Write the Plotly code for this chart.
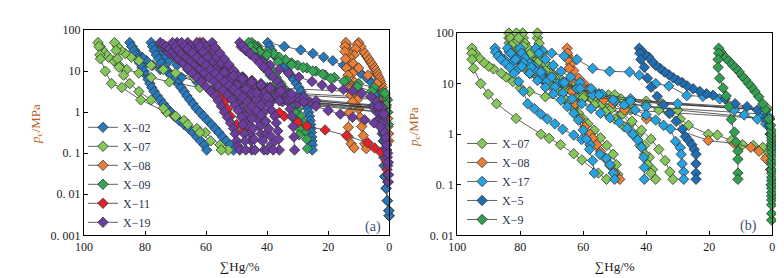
import plotly.graph_objects as go

# ---------------- panel (a) data : cumulative Hg saturation (%) and capillary pressure (MPa) ----------------
a_x02_hg = [0, 0.1, 0.6, 1.0, 1.4, 1.6, 1.7, 1.8, 2.0, 2.3, 2.7, 3.2, 5, 48, 57, 63, 68, 72, 75, 77.5, 79.5, 81, 82.5, 83.5, 84.3, 85,
            84.3, 83.6, 83, 82.5, 81.8, 81, 80.3, 79.6, 79, 78.4, 77.8, 77, 76, 75, 74, 72.8, 71.5, 70.2, 68.8, 67.2, 65.7, 64.3, 63, 61.8, 60.6, 59.8, None,
            2.0, 2.6, 3.5, 4.5, 40, 50, 57, 62, 66, 69.5, 72, 74, 75.5, 76.5, 77.3, 78,
            77.5, 77, 76.3, 75.5, 74.6, 73.6, 72.6, 71.5, 70.3, 69.2, 68.2, 67.2, 66.3, 65.3, 64.3, 63.2, 62, 60.8, 59.5, 58.2, 57, 55.8, 54.6, 53.4, 52.2, 51, None,
            0, 0.2, 0.6, 1.0, 1.4, 1.6, 1.7, 1.6, 1.6, 1.8, 2.0, 2.3, 2.7, 3.0, 3.4, 3.8, 5, 6, 7.5, 9.4, 11.8, 15, 18.5, 21.5, 25, 29, 34.4, 39.8,
            39.2, 38.5, 37.6, 36.6, 35.5, 34.4, 33.3, 32.3, 31.3, 30.4, 29.6, 28.9, 28.2, 27.6, 27.1, 26.7, 26.4, 26.1, 25.9, 25.7, 25.6, 25.5, 25.4, 25.3, 25.2, 25.2]
a_x02_pc = [0.003, 0.004, 0.007, 0.014, 0.027, 0.05, 0.08, 0.12, 0.2, 0.3, 0.45, 0.7, 1.5, 3.0, 4.0, 5.5, 7, 9, 11, 14, 18, 22, 27, 33, 40, 50,
            40, 32, 25, 20, 16, 12.5, 10, 8, 6.3, 5, 4, 3.2, 2.5, 2, 1.6, 1.25, 1.0, 0.8, 0.63, 0.5, 0.4, 0.32, 0.25, 0.2, 0.16, 0.12, None,
            1.0, 1.5, 2.2, 3.0, 4.0, 5.5, 7, 9, 11, 14, 18, 22, 27, 33, 40, 50,
            40, 32, 25, 20, 16, 12.5, 10, 8, 6.3, 5, 4, 3.2, 2.5, 2, 1.6, 1.25, 1.0, 0.8, 0.63, 0.5, 0.4, 0.32, 0.25, 0.2, 0.16, 0.12, None,
            0.003, 0.004, 0.007, 0.014, 0.027, 0.05, 0.08, 0.12, 0.2, 0.3, 0.45, 0.7, 1.0, 1.5, 2.2, 3.0, 4.0, 5.5, 7, 9, 11, 14, 18, 22, 27, 33, 40, 50,
            40, 32, 25, 20, 16, 12.5, 10, 8, 6.3, 5, 4, 3.2, 2.5, 2, 1.6, 1.25, 1.0, 0.8, 0.63, 0.5, 0.4, 0.32, 0.25, 0.2, 0.16, 0.12]

a_x07_hg = [0.5, 0.5, 0.6, 0.8, 45, 62, 72, 78, 82, 86, 88.5, 90.3, 92, 93, 94, 94.7, 95.4,
            95.1, 94.8, 94.6, 93, 91, 87.6, 81.4, 73, 70.4, 67.2, 63, 60.2, 55.4, 52.7, None,
            1.0, 35, 46, 55, 64, 70, 74, 78, 82, 84.5, 86.5, 88, 89, 90,
            89.5, 89, 88.5, 87, 85, 82, 78, 74, 70, 66, 62, 58.5, 55]
a_x07_pc = [0.3, 0.5, 1.0, 2.0, 3.0, 4.0, 5.5, 7, 9, 11, 14, 18, 22, 27, 33, 40, 50,
            40, 25, 20, 10, 5, 4, 2, 1.0, 0.8, 0.63, 0.4, 0.32, 0.16, 0.12, None,
            2.2, 3.0, 4.0, 5.5, 7, 9, 11, 14, 18, 22, 27, 33, 40, 50,
            32, 20, 12.5, 8, 5, 3.2, 2, 1.25, 0.8, 0.5, 0.32, 0.2, 0.12]

a_x08_hg = [0.2, 0.3, 0.4, 0.6, 0.8, 1.0, 1.3, 1.6, 1.8, 2.0, 2.3, 2.6, 2.9, 3.2, 3.6, 4.0, 4.4, 4.8, 5.2, 5.7, 6.2, 6.8, 7.4, 8.0, 8.7, 9.3, 10,
            10.5, 11, 11.5, 12, 12, 11.5, 11, 10.5, 10, 9.5, 9, 8.5, 8, 7.5, None,
            0.3, 0.5, 1.0, 2.0, 4.0, 7.0, 10, 12, 13, 13.5, 14, 14, 14.2,
            14.5, 14.5, 14.3, 14, 13.5, 13, 13, 12.5, 12, 13, 13.4, 13.4, 12.5, 11.5]
a_x08_pc = [0.2, 0.3, 0.45, 0.7, 1.0, 1.3, 1.7, 2.2, 2.7, 3.3, 4.0, 4.8, 5.6, 6.5, 7.5, 8.7, 10, 11.5, 13, 15, 17, 20, 23, 27, 32, 40, 50,
            45, 35, 25, 15, 9, 5.5, 3.5, 2, 1.2, 0.75, 0.45, 0.27, 0.17, 0.13, None,
            0.3, 0.7, 1.5, 3.0, 5.0, 8.0, 12, 16, 22, 30, 38, 45, 50,
            40, 30, 20, 12, 8, 5, 3.5, 2.6, 1.8, 1.0, 0.43, 0.25, 0.17, 0.135]

a_x09_hg = [0.3, 0.5, 0.6, 1.4, 2, 5, 10, 14, 18, 21, 24, 27, 30, 32, 34, 36, 38, 40, 43, 45,
            44, 43, 42, 41, 40, 38.5, 37, 35.5, 34, 32.5, 31, 30, 29, 28, 27.5, 27, 26.8, None,
            1.0, 1.4, 5.7, 10.5, 14.8, 19.1, 21.8, 25, 28.2, 32, 36.3, 40.1, 42.5, 44.5, 46,
            45.5, 44.5, 43, 41, 39, 37, 35, 33.5, 32, 31, 30, 29.5, 29.5]
a_x09_pc = [0.5, 1.0, 2.0, 2.5, 3.0, 4.0, 5.0, 6.0, 7.0, 8.0, 10, 12, 14, 16, 19, 22, 27, 30, 40, 50,
            42, 35, 27, 20, 14, 10, 7, 5, 3.5, 2.5, 1.7, 1.2, 0.8, 0.55, 0.35, 0.22, 0.13, None,
            1.5, 2.9, 3.2, 4.2, 5.6, 6.6, 8.5, 10.1, 12.3, 14.5, 17, 25, 30, 40, 50,
            40, 30, 20, 12, 8, 5, 3.2, 2.2, 1.5, 1.0, 0.6, 0.4, 0.28]

a_x11_hg = [0.5, 0.7, 1.0, 2.7, 4.8, 7, 14, 21, 27, 30, 34.4, 36, 43.5, 48, 52, 55, 58, 60, 62,
            61, 60, 59, 58, 57, 56, 55, 54, 53, 52, 50, 48]
a_x11_pc = [0.02, 0.04, 0.066, 0.105, 0.135, 0.18, 0.27, 0.37, 0.46, 0.56, 0.8, 0.98, 3.0, 6, 10, 15, 25, 35, 50,
            35, 22, 14, 9, 6, 4, 2.6, 1.8, 1.2, 0.8, 0.5, 0.35]

a_x19_hg = [0.3, 0.5, 0.5, 0.6, 0.8, 1.0, 1.3, 2.0, 3.0, 4.0, 5.0, 38, 42, 45, 48, 51, 53.5, 56, 58, 60, 62, 64, 66, 67.5, 69, 70.5, 72, 73, 74, 75,
            74, 73, 72, 71, 70, 69, 67.5, 66, 64.5, 63, 61.5, 60, 58.5, 57, 56, 55, 54, 53, 52, 51, 50.5, 50, 49.5, 49, None,
            1.5, 2.5, 3.5, 35, 39, 42, 45, 48, 50.5, 53, 55.5, 58, 60, 62, 64, 65.5, 67, 68, 69, 69.5,
            68.5, 67.5, 66.5, 65, 63.5, 62, 60.5, 59, 57.5, 56, 54.5, 53, 51.5, 50.5, 49.5, 48.5, 47.5, 47, 46.5, 46, 45.5, 45.2, 45, None,
            2.0, 3.0, 30, 34, 37, 40, 43, 46, 49, 51.5, 54, 56, 58, 60, 61.5, 63, 64, 65, 66,
            65, 64, 62.5, 61, 59.5, 58, 56.5, 55, 53.5, 52, 50.5, 49, 47.5, 46.5, 45.5, 44.5, 43.5, 43, 42.5, 42, 41.5, 41, None,
            2.5, 26, 30, 33, 36, 39, 42, 45, 48, 50.5, 53, 55, 57, 58.5, 60, 61,
            60, 59, 57.5, 56, 54.5, 53, 51.5, 50, 48.5, 47, 45.5, 44, 42.5, 41, 39.5, 38.5, 37.5, 37, 36.5, 36.2, 36, None,
            1.5, 2.5, 4, 6, 9, 12, 15, 18.8, 22, 25.3, 29.6, 33, 36, 39, 41.5, 43.5, 45.5, 47, 48.5, 49,
            48, 47, 45.5, 44, 42.5, 41, 39.5, 38, 36.5, 35.5, 34.5, 33.5, 33, 32.5, 32, 31.5, 31.2, 31, None,
            3.0, 33, 37, 41, 44, 47, 50, 52.5, 55, 57, 59, 60.5, 61.5, 62.3, 63,
            62, 61, 59.5, 58, 56.5, 55, 53.5, 52, 50.5, 49, 47.5, 46.5, 45.5, 45, 44.5, 44.2, 44, None,
            2.0, 28, 32, 36, 39, 42, 45, 48, 50.5, 53, 55, 56.5, 57.5, 58,
            57, 55.5, 54, 52.5, 51, 49.5, 48, 46.5, 45, 43.5, 42, 41, 40.5, 40.2, 40, None,
            2.2, 36, 40, 43.5, 47, 50, 52.5, 55, 57.5, 60, 62, 64, 66, 67.5, 69, 70, 71,
            70, 69, 68, 66.5, 65, 63.5, 62, 60.5, 59, 57.5, 56, 54.5, 53, 51.5, 50.5, 49.5, 48.5, 48, 47.5, 47.2, 47, None,
            1.8, 3.5, 24, 28, 32, 35.5, 39, 42, 45, 48, 51, 54, 57, 59.5, 61.5, 63, 64.5, 66, 67, 68,
            67, 66, 64.5, 63, 61.5, 60, 58.5, 57, 55.5, 54, 52.5, 51, 49.5, 48, 46.5, 45, 43.5, 42, 40.5, 39.5, 38.8, 38.3, 38, None,
            0.2, 0.3, 0.5, 0.8, 1.2, 2, 3, 5, 8, 12, 16, 20, 24, 28]
a_x19_pc = [0.02, 0.03, 0.05, 0.08, 0.12, 0.2, 0.3, 0.5, 0.7, 1.0, 1.3, 2.0, 2.3, 2.7, 3.2, 3.8, 4.5, 5.3, 6.3, 7.5, 9, 11, 13, 16, 19, 23, 27, 32, 40, 50,
            45, 40, 35, 30, 25, 20, 16, 12, 9, 7, 5.5, 4.2, 3.2, 2.5, 1.9, 1.4, 1.0, 0.75, 0.55, 0.4, 0.3, 0.2, 0.15, 0.12, None,
            0.5, 0.8, 1.2, 1.8, 2.2, 2.7, 3.3, 4.0, 5.0, 6.0, 7.5, 9, 11, 14, 17, 21, 26, 32, 40, 50,
            42, 35, 28, 22, 17, 13, 10, 8, 6.3, 5, 4, 3.2, 2.5, 2, 1.6, 1.25, 1.0, 0.8, 0.6, 0.45, 0.3, 0.2, 0.12, None,
            0.6, 1.0, 1.6, 2.0, 2.5, 3.0, 3.6, 4.3, 5.2, 6.2, 7.5, 9, 11, 14, 18, 23, 30, 40, 50,
            42, 34, 27, 21, 16.5, 13, 10.5, 8.5, 6.8, 5.4, 4.3, 3.4, 2.7, 2.1, 1.6, 1.2, 0.9, 0.65, 0.45, 0.3, 0.2, 0.12, None,
            1.2, 1.8, 2.3, 2.8, 3.4, 4.1, 5.0, 6.0, 7.3, 9, 11, 14, 18, 24, 32, 50,
            40, 32, 25, 20, 16, 12.5, 10, 8, 6.3, 5, 4, 3.2, 2.5, 2, 1.5, 1.1, 0.8, 0.55, 0.35, 0.22, 0.12, None,
            0.8, 1.2, 1.8, 2.4, 2.9, 3.3, 3.6, 3.9, 4.6, 5.6, 7.2, 9, 11, 14, 17, 21, 26, 32, 40, 50,
            42, 34, 27, 21, 16, 12.5, 9.5, 7.3, 5.6, 4.3, 3.3, 2.5, 1.8, 1.2, 0.8, 0.45, 0.25, 0.12, None,
            1.4, 2.1, 2.6, 3.2, 4, 5, 6.3, 8, 10, 13, 17, 22, 28, 36, 50,
            40, 30, 22, 16, 12, 9, 7, 5.4, 4.2, 3.2, 2.4, 1.7, 1.1, 0.7, 0.4, 0.22, 0.12, None,
            1.0, 1.7, 2.2, 2.8, 3.5, 4.4, 5.5, 7, 9, 12, 16, 22, 32, 50,
            38, 28, 20, 14.5, 10.5, 7.6, 5.5, 4, 2.9, 2.1, 1.5, 1, 0.6, 0.3, 0.12, None,
            1.3, 1.9, 2.4, 3.0, 3.7, 4.6, 5.7, 7, 8.6, 10.5, 13, 16, 20, 25, 31, 38, 50,
            40, 33, 27, 22, 18, 14.5, 11.5, 9, 7, 5.5, 4.3, 3.4, 2.6, 2.0, 1.5, 1.1, 0.75, 0.5, 0.3, 0.2, 0.12, None,
            0.9, 1.4, 1.9, 2.3, 2.8, 3.3, 3.9, 4.6, 5.5, 6.5, 7.8, 9.3, 11, 13.5, 16.5, 20, 25, 32, 40, 50,
            42, 35, 28, 22, 17.5, 14, 11, 8.8, 7, 5.6, 4.5, 3.6, 2.9, 2.3, 1.8, 1.4, 1.1, 0.85, 0.6, 0.4, 0.26, 0.17, 0.12, None,
            0.03, 0.06, 0.1, 0.16, 0.25, 0.35, 0.45, 0.55, 0.65, 0.75, 0.9, 1.1, 1.4, 1.8]

# ---------------- panel (b) data ----------------
b_x07_hg = [0.5, 0.6, 0.8, 45, 62, 72, 77, 80, 82.3, 84.5, 86, 88.5, 90, 91.5, 93, 94.3, 95.3,
            95.3, 95.3, 94.8, 92.5, 90.1, 87.5, 81.3, 73.4, 70.8, 67.2, 63, 60.4, 55.2, 52.6, None,
            1.0, 30, 45, 55, 62, 67, 71, 74, 76.5, 78.5, 80, 81.5, 82.5, 83, 83.5, 83.6, 83.6,
            83, 82, 80.5, 79, 77.5, 75.5, 73.5, 71.5, 69.5, 67.5, 65.5, 63, 60, 56, 52, 48, 45, 42.5, 40.5, 39, 38, 37, None,
            2.0, 35, 48, 56, 62, 66.5, 70, 72.5, 74.5, 76, 77.2, 78, 78.6, 79, 79.2,
            78.5, 77.5, 76, 74.5, 72.5, 70.5, 68, 65.5, 63, 60, 57, 54, 51, 47.5, 44.5, 41.5, 38.5, 36, 34, 32.5, 31.5, None,
            1.5, 40, 52, 59, 64, 67.5, 70, 71.5, 72.5, 73.5, 74, 74.5, 74.5,
            74, 73, 72, 70.5, 69, 67.5, 66, 64.5, 63, 61.5, 60, 58.5, 56.5, 54.5, 52.5, 50.5, 49.5, 49, None,
            60, 66, 70, 73, 75.5, 77.5, 79, 80, 80.8, 81.2,
            80.5, 79, 77, 74.5, 72, 69, 66, 63, 60, 56.5, 53, 50, 47, 44, 42, 40.5, 39.5, 38.5, None,
            0.3, 0.5, 0.8, 1.5, 3, 6, 9.4, 13, 17.4, 20.3, 26.6, 29.2, 32.8, 36, 40, 45, 50]
b_x07_pc = [0.5, 1.0, 2.0, 3.0, 4.0, 5.5, 7, 8.3, 11, 13.5, 16, 19.6, 22, 26, 32, 40, 50,
            40, 30, 20, 10, 6.2, 4.0, 2.05, 1.0, 0.83, 0.62, 0.41, 0.31, 0.17, 0.128, None,
            2.0, 3.0, 4.0, 5.0, 6.3, 8, 10, 12.5, 16, 20, 25, 32, 40, 50, 63, 80, 100,
            80, 63, 50, 40, 32, 25, 20, 16, 12.5, 10, 8, 6.3, 5, 4, 3.2, 2.5, 1.6, 1.0, 0.6, 0.35, 0.2, 0.128, None,
            3.0, 4.0, 5.0, 6.3, 8, 10, 12.5, 16, 20, 25, 32, 40, 50, 80, 100,
            63, 50, 40, 30, 22, 17, 13, 10, 8, 6.3, 5, 4, 3.2, 2.5, 1.8, 1.2, 0.8, 0.5, 0.3, 0.18, 0.128, None,
            3.2, 4.5, 6, 8, 10, 13, 16, 20, 25, 32, 50, 80, 100,
            63, 40, 25, 16, 10, 7, 5, 4, 3.2, 2.6, 2.0, 1.6, 1.2, 0.85, 0.6, 0.4, 0.25, 0.16, None,
            5, 7, 9, 12, 16, 22, 30, 45, 70, 100,
            80, 55, 38, 26, 18, 13, 9.5, 7, 5.2, 3.8, 2.8, 2.0, 1.4, 0.95, 0.6, 0.4, 0.25, 0.17, None,
            0.1, 0.2, 0.35, 0.45, 0.55, 0.6, 0.62, 0.75, 0.96, 1.0, 1.5, 2.0, 2.6, 3.0, 3.8, 4.8, 6]

b_x08_hg = [0.5, 0.8, 2.1, 4.2, 6.8, 12, 20.3, 39.9, 46.9, 50.5, 53.4, 56.8, 58.3, 59.9, 61.5, 63, 64, 64.8, 65.1,
            65, 64.8, 64.5, 64, 63.5, 62.5, 61, 59.5, 57.8, 57, 55.7, 54.5, 53, 51.5, 50, 48.4]
b_x08_pc = [0.2, 0.28, 0.33, 0.46, 0.55, 0.65, 0.75, 2.0, 3.0, 4.0, 4.8, 6.2, 7.8, 10.2, 12.8, 18, 24, 35, 50,
            40, 30, 20, 12, 7, 4, 2.0, 1.4, 1.0, 0.83, 0.62, 0.45, 0.33, 0.24, 0.17, 0.128]

b_x17_hg = [0.5, 1.0, 2.1, 30, 45, 55, 62, 68, 73, 77, 80.5, 83, 85, 86.5, 87.5, 88,
            87.8, 87, 86, 84.5, 83.3, 82, 80.5, 79, 77.6, 75.5, 73.5, 71.4, 69, 66.5, 63, 60.5, 57.8, 54.7, 52.6, 51.5, 50.5, 50, None,
            1.5, 3, 40, 50, 57, 62, 66.5, 70, 73, 75.5, 77.5, 79, 80,
            79.5, 78.5, 77, 75.5, 73.5, 71.5, 69, 66.5, 63.5, 60.5, 57.5, 54.5, 51.5, 48.5, 46, 44.3, 42.7, 41.5, 40.8, 40.6, 40.6, None,
            0.3, 0.5, 2.1, 4.7, 8.9, 12, 16.7, 22, 27.1, 32.8, 37, 42.2, 45.3, 51.6, 57, 62, 66, 70, 73, 75,
            74, 72, 69.5, 67, 64, 61, 57.5, 54, 50.5, 47, 43.5, 40, 37, 34.5, 32.3, 30.7, 29.2, 28.9, 28.6, 28.1, 28.1, None,
            1.0, 3.0, 45, 55, 61, 66, 70, 73.5, 76.5, 79, 81, 82.5, 83.5, 84,
            83, 81.5, 79.5, 77, 74.5, 72, 69.5, 67, 65, 63, 61.5, 60, 59, 58, 57, 56.5]
b_x17_pc = [1.0, 2.0, 3.0, 4.0, 5.0, 6.3, 8, 10, 12.5, 16, 20, 25, 30, 35, 42, 50,
            42, 35, 30, 25, 21, 16, 11, 7, 4.0, 3.2, 2.5, 2.0, 1.6, 1.25, 0.96, 0.78, 0.62, 0.4, 0.33, 0.25, 0.17, 0.128, None,
            1.5, 2.5, 3.5, 4.5, 6, 8, 10.5, 13.5, 17, 22, 28, 36, 50,
            40, 32, 25, 19, 14.5, 11, 8.5, 6.5, 5.0, 4.0, 3.2, 2.6, 2.1, 1.7, 1.3, 1.0, 0.77, 0.55, 0.35, 0.22, 0.128, None,
            0.5, 1.0, 1.6, 2.0, 2.4, 3.0, 5, 5.6, 5.8, 9, 10, 14.7, 17, 17.5, 20, 30, 35, 40, 45, 50,
            40, 30, 23, 17.5, 13.5, 10.5, 8, 6.2, 4.8, 3.8, 3.0, 2.4, 1.9, 1.5, 1.27, 0.72, 0.54, 0.4, 0.26, 0.18, 0.128, None,
            2.2, 3.0, 4.5, 6, 8, 10.5, 13.5, 17, 21, 26, 31, 37, 43, 50,
            40, 30, 22, 16, 11.5, 8.5, 6.3, 4.7, 3.5, 2.6, 1.9, 1.2, 0.8, 0.5, 0.3, 0.17]

b_x5_hg = [0.3, 0.6, 1.0, 2.0, 4.7, 8, 11.8, 15, 18.8, 20.9, 23, 25.1, 27, 28.6, 30, 31.4, 32.8, 34.2, 35.6, 37, 38, 39.2, 40.5, 41.5, 42.2,
           42, 41.7, 40.6, 39.6, 38.5, 36.5, 34.5, 32.5, 30.5, 28.5, 27.6, 26.5, 25.5, 24.8, 24.2, 24.2, 24.2, 24.2]
b_x5_pc = [0.6, 1.0, 1.5, 2.0, 3.0, 3.5, 4.0, 5.0, 5.9, 6.3, 7, 7.9, 9, 10.5, 11.5, 13, 15, 17, 20, 23, 27, 33.5, 38, 44, 50,
           40, 30, 21, 12.8, 8.5, 5.6, 3.8, 2.6, 1.8, 1.25, 0.9, 0.75, 0.62, 0.5, 0.4, 0.26, 0.17, 0.128]

b_x9_hg = [0.2, 0.2, 0.2, 0.2, 0.2, 0.2, 0.2, 0.2, 0.2, 0.2, 0.2, 0.2, 0.2, 0.2, 0.2, 0.2, 0.2, 0.2, 0.2, 0.2, 0.2,
           0.3, 0.5, 1.1, 2.2, 3, 4.3, 5.5, 6.5, 7.5, 8.5, 9.5, 10.5, 11.5, 12.5, 13.5, 14.5, 15.5, 16.3, 17,
           17, 17.2, 17.2, 16.7, 15.6, 14.6, 13.8, 13, 12, 11.5, 10.9, 10.9, 10.9, 10.9]
b_x9_pc = [0.02, 0.027, 0.04, 0.05, 0.06, 0.07, 0.085, 0.1, 0.12, 0.14, 0.17, 0.2, 0.25, 0.3, 0.37, 0.45, 0.55, 0.65, 0.75, 0.85, 1.0,
           1.2, 1.5, 2.0, 3.1, 4, 5.5, 7, 8.5, 10, 12, 14, 17, 20, 23, 27, 31, 36, 42, 50,
           40, 30, 21, 12.8, 8.2, 5.7, 3.5, 1.96, 1.1, 0.7, 0.46, 0.32, 0.17, 0.128]

tick_vals_a = [0.001, 0.01, 0.1, 1, 10, 100]
tick_text_a = ["0. 001", "0. 01", "0. 1", "1", "10", "100"]
tick_vals_b = [0.01, 0.1, 1, 10, 100]
tick_text_b = ["0. 01", "0. 1", "1", "10", "100"]
x_ticks = [100, 80, 60, 40, 20, 0]

series_a = [("X−02", a_x02_hg, a_x02_pc, "#2779bf"),
            ("X−07", a_x07_hg, a_x07_pc, "#86c75a"),
            ("X−08", a_x08_hg, a_x08_pc, "#ea7f38"),
            ("X−09", a_x09_hg, a_x09_pc, "#34a455"),
            ("X−11", a_x11_hg, a_x11_pc, "#e8202a"),
            ("X−19", a_x19_hg, a_x19_pc, "#6c3d9e")]
series_b = [("X−07", b_x07_hg, b_x07_pc, "#86c75a"),
            ("X−08", b_x08_hg, b_x08_pc, "#ea7f38"),
            ("X−17", b_x17_hg, b_x17_pc, "#27a2e0"),
            ("X−5", b_x5_hg, b_x5_pc, "#1f6db3"),
            ("X−9", b_x9_hg, b_x9_pc, "#30a050")]

W, H = 784, 278
SERIF = "Liberation Serif, Times New Roman, serif"
INK = "#1a1a1a"

fig = go.Figure()
for series, xa, ya, lg in [(series_a, "x", "y", "legend"), (series_b, "x2", "y2", "legend2")]:
    for name, hg, pc, col in series:
        assert len(hg) == len(pc), name
        fig.add_trace(go.Scatter(
            x=hg, y=pc, xaxis=xa, yaxis=ya, legend=lg, name=name,
            mode="lines+markers", connectgaps=False, cliponaxis=False,
            line=dict(color="#3a3a3a", width=0.8),
            marker=dict(symbol="diamond", size=8, color=col,
                        line=dict(color="#333333", width=0.8)),
            hoverinfo="skip"))

def px_x(p):
    return p / W

def px_y(p):
    return 1 - p / H

axis_common = dict(showline=True, linecolor="black", linewidth=1.2, mirror=True,
                   ticks="inside", ticklen=4, tickcolor="black", showgrid=False, zeroline=False,
                   tickfont=dict(family=SERIF, size=12, color=INK))

fig.update_layout(
    width=W, height=H, margin=dict(l=0, r=0, t=0, b=0),
    paper_bgcolor="white", plot_bgcolor="white", hovermode=False,
    xaxis=dict(domain=[px_x(68), px_x(378)], range=[100, 0], anchor="y",
               tickvals=x_ticks, **axis_common),
    yaxis=dict(domain=[px_y(232), px_y(16)], type="log", range=[-3, 2], anchor="x",
               tickvals=tick_vals_a, ticktext=tick_text_a, **axis_common),
    xaxis2=dict(domain=[px_x(447), px_x(767)], range=[100, 0], anchor="y2",
                tickvals=x_ticks, **axis_common),
    yaxis2=dict(domain=[px_y(232), px_y(19)], type="log", range=[-2, 2], anchor="x2",
                tickvals=tick_vals_b, ticktext=tick_text_b, **axis_common),
    legend=dict(x=px_x(67), y=px_y(103), xanchor="left", yanchor="top",
                bgcolor="rgba(0,0,0,0)", borderwidth=0, itemwidth=30,
                font=dict(family=SERIF, size=12, color="#2a3550")),
    legend2=dict(x=px_x(452), y=px_y(120), xanchor="left", yanchor="top",
                 bgcolor="rgba(0,0,0,0)", borderwidth=0, itemwidth=30,
                 font=dict(family=SERIF, size=12, color="#2a3550")),
    showlegend=True,
)

title_font = dict(family=SERIF, size=13, color=INK)
ytitle_font = dict(family=SERIF, size=13, color="#b8621f")
annos = [
    dict(x=px_x(226), y=px_y(265), text="∑Hg/%", font=title_font),
    dict(x=px_x(607), y=px_y(265), text="∑Hg/%", font=title_font),
    dict(x=px_x(19), y=px_y(115), text="<i>p</i><sub>c</sub>/MPa", textangle=-90, font=ytitle_font),
    dict(x=px_x(403), y=px_y(118), text="<i>p</i><sub>c</sub>/MPa", textangle=-90, font=ytitle_font),
    dict(x=px_x(362), y=px_y(223), text="(a)", font=dict(family=SERIF, size=14, color="#3d4c75")),
    dict(x=px_x(743), y=px_y(222), text="(b)", font=dict(family=SERIF, size=14, color="#3d4c75")),
]
for a in annos:
    a.update(xref="paper", yref="paper", showarrow=False, xanchor="center", yanchor="middle")
fig.update_layout(annotations=annos)

fig.write_html("out.html")
